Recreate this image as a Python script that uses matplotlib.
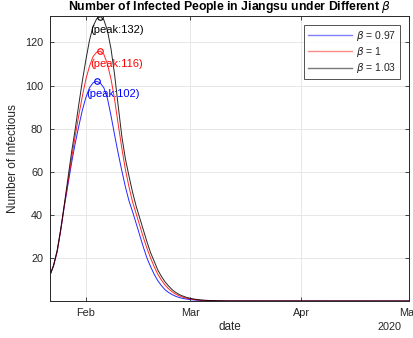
import numpy as np
import matplotlib
matplotlib.use("Agg")
import matplotlib.pyplot as plt
import matplotlib.dates as mdates
from matplotlib.lines import Line2D

plt.rcParams['font.family'] = ['Liberation Sans', 'DejaVu Sans']
plt.rcParams['mathtext.fontset'] = 'dejavusans'

start_date = '2020-01-22'
# day offsets from start date (last point = May 1)
days = list(range(51)) + [100]

beta_labels = [r'$\beta$ = 0.97', r'$\beta$ = 1', r'$\beta$ = 1.03']
colors = ['#0000ff', '#ff0000', '#000000']
legend_colors = ['#7f7fff', '#ff8a8a', '#7a7a7a']

inf_097 = [12, 16.5, 23, 33, 44, 54, 64, 73, 81, 88.5, 94.5, 99, 101.3, 102, 101.2,
           99, 94, 86, 77, 68.5, 60.5, 53, 46.5, 41.5, 36, 30.5, 25, 20, 16, 12.5,
           9.5, 7.2, 5.3, 4, 3, 2.2, 1.6, 1.2, 0.9, 0.65, 0.5, 0.35, 0.25, 0.18, 0.12,
           0.08, 0.06, 0.04, 0.03, 0.02, 0.01, 0.0]
inf_100 = [12, 16.5, 23, 33, 44.5, 55, 66, 76.5, 86, 95, 103, 109, 113.5, 115.5, 116,
           114.5, 110, 103, 93.5, 82, 71, 61, 53, 46, 40.5, 35, 29.5, 24.5, 20, 16,
           12.5, 9.8, 7.5, 5.7, 4.3, 3.2, 2.4, 1.8, 1.3, 1.0, 0.7, 0.5, 0.37, 0.27, 0.19,
           0.13, 0.09, 0.06, 0.04, 0.03, 0.02, 0.0]
inf_103 = [12, 16.5, 23.5, 33.5, 45, 57, 69, 79.5, 91, 102, 112, 121, 127.5, 131, 132,
           130.5, 125.5, 117, 105, 90.5, 76.5, 66, 58, 50.5, 44, 38.5, 33, 27.5, 22.5, 18.5,
           14.5, 11.5, 9, 7, 5.3, 4, 3, 2.3, 1.7, 1.3, 0.95, 0.7, 0.5, 0.37, 0.27,
           0.2, 0.14, 0.1, 0.07, 0.05, 0.03, 0.0]
series = [inf_097, inf_100, inf_103]

peak_texts = ['(peak:102)', '(peak:116)', '(peak:132)']

W, H = 413, 338
fig = plt.figure(figsize=(W / 100, H / 100), dpi=100)
ax = fig.add_axes([50 / W, 1 - 301 / H, (409 - 50) / W, (301 - 16) / H])

x = np.datetime64(start_date) + np.array(days).astype('timedelta64[D]')
axis_col = '#262626'
for vals, c, pt in zip(series, colors, peak_texts):
    v = np.array(vals)
    ax.plot(x, v, color=c, lw=0.7, alpha=0.85)
    i = int(np.argmax(v))
    ax.plot(x[i], v[i], marker='o', ms=4, mfc='none', mec=c, mew=0.8, ls='none')
    ax.annotate(pt, (x[i], v[i]), xytext=(-10, -13), textcoords='offset pixels',
                color=c, fontsize=8, ha='left', va='center')

ax.set_xlim(np.datetime64('2020-01-22'), np.datetime64('2020-05-01'))
ax.set_ylim(0.0, 132.3)
ax.set_yticks([20, 40, 60, 80, 100, 120])
ax.xaxis.set_major_locator(mdates.MonthLocator())
ax.xaxis.set_major_formatter(mdates.DateFormatter('%b'))

ax.grid(True, color='#e3e3e3', lw=0.6)
ax.set_axisbelow(True)
for s in ax.spines.values():
    s.set_color(axis_col)
    s.set_linewidth(0.7)
ax.tick_params(direction='in', length=3, width=0.6, colors=axis_col,
               labelsize=7.8, top=True, right=True, pad=5)
for t in ax.get_xticklabels() + ax.get_yticklabels():
    t.set_color('#262626')

ax.set_ylabel('Number of Infectious', fontsize=8.5, color='#262626', labelpad=4)
fig.text(230 / W, 1 - 327 / H, 'date', fontsize=8.5, color='#262626', ha='center', va='center')
fig.text(402 / W, 1 - 327 / H, '2020', fontsize=7.8, color='#262626', ha='right', va='center')
ax.set_title(r'Number of Infected People in Jiangsu under Different $\beta$',
             fontsize=8.8, fontweight='bold', color='black', pad=4)

handles = [Line2D([], [], color=lc, lw=1.0) for lc in legend_colors]
leg = ax.legend(handles, beta_labels, loc='upper right', fontsize=7.5, frameon=True,
                fancybox=False, edgecolor=axis_col, handlelength=4.2, handletextpad=0.4,
                borderpad=0.35, labelspacing=0.2, borderaxespad=0.9)
leg.get_frame().set_linewidth(0.7)
for t in leg.get_texts():
    t.set_color('#262626')

fig.savefig('out.png', dpi=100)
